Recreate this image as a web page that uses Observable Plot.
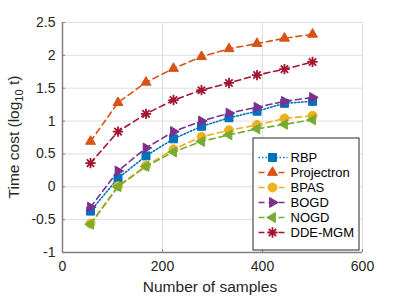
<!DOCTYPE html>
<html>
<head>
<meta charset="utf-8">
<script src="https://cdn.jsdelivr.net/npm/d3@7"></script>
<script src="https://cdn.jsdelivr.net/npm/@observablehq/plot@0.6"></script>
<style>
  body { margin: 0; background: #fff; }
  #wrap { position: relative; width: 399px; height: 299px; }
  #legend { position: absolute; left: 252px; top: 137px; }
  #legend svg { overflow: visible; }
</style>
</head>
<body>
<div id="wrap"><div id="chart"></div><div id="legend"></div></div>
<script>
const xValues = [56, 111, 167, 222, 278, 333, 389, 444, 500];
const seriesNames = ["RBP", "Projectron", "BPAS", "BOGD", "NOGD", "DDE-MGM"];
const rbp        = [-0.37, 0.13, 0.47, 0.73, 0.92, 1.05, 1.15, 1.27, 1.30];
const projectron = [0.69, 1.28, 1.59, 1.80, 1.98, 2.10, 2.18, 2.26, 2.32];
const bpas       = [-0.56, 0.01, 0.32, 0.57, 0.76, 0.86, 0.94, 1.04, 1.08];
const bogd       = [-0.31, 0.24, 0.59, 0.84, 1.00, 1.12, 1.21, 1.30, 1.36];
const nogd       = [-0.57, 0.00, 0.31, 0.53, 0.69, 0.79, 0.88, 0.95, 1.02];
const ddemgm     = [0.36, 0.84, 1.11, 1.32, 1.47, 1.58, 1.70, 1.79, 1.90];
const seriesValues = [rbp, projectron, bpas, bogd, nogd, ddemgm];
const colors = ["#0072BD", "#D95319", "#EDB120", "#7E2F8E", "#77AC30", "#A2142F"];
const xTicks = [0, 200, 400, 600];
const yTicks = [-1, -0.5, 0, 0.5, 1, 1.5, 2, 2.5];
const xLabel = "Number of samples";

// custom marker symbols
const triangle = (angle) => ({
  draw(ctx, size) {
    const R = Math.sqrt(size) * 0.72;
    for (let i = 0; i < 3; i++) {
      const a = angle + i * 2 * Math.PI / 3;
      const px = R * Math.cos(a), py = R * Math.sin(a);
      if (i === 0) ctx.moveTo(px, py); else ctx.lineTo(px, py);
    }
    ctx.closePath();
  }
});
const asterisk = {
  draw(ctx, size) {
    const r = Math.sqrt(size) * 0.65;
    for (let i = 0; i < 4; i++) {
      const a = i * Math.PI / 4;
      ctx.moveTo(-r * Math.cos(a), -r * Math.sin(a));
      ctx.lineTo(r * Math.cos(a), r * Math.sin(a));
    }
  }
};
const symbols = ["square", triangle(-Math.PI / 2), "circle", triangle(0), triangle(Math.PI), asterisk];
const dashes = ["1.5,2", "6,4", "6,4", "6,4", "6,4", "6,4"];

const rows = [];
seriesNames.forEach((name, i) => {
  xValues.forEach((x, j) => rows.push({ series: name, x, y: seriesValues[i][j] }));
});

const seriesMarks = [];
seriesNames.forEach((name, i) => {
  const d = rows.filter(r => r.series === name);
  const isStar = i === 5;
  seriesMarks.push(Plot.line(d, { x: "x", y: "y", stroke: colors[i], strokeWidth: 1.6, strokeDasharray: dashes[i] }));
  seriesMarks.push(Plot.dot(d, {
    x: "x", y: "y", symbol: () => symbols[i], r: 4.5,
    fill: isStar ? "none" : colors[i], stroke: colors[i], strokeWidth: isStar ? 1.8 : 1
  }));
});

const chart = Plot.plot({
  width: 399,
  height: 299,
  marginLeft: 62,
  marginRight: 37,
  marginTop: 22,
  marginBottom: 47,
  style: { fontFamily: "'Liberation Sans', Arial, sans-serif", fontSize: "14px", color: "#262626", background: "#fff" },
  x: { domain: [0, 600] },
  y: { domain: [-1, 2.5] },
  marks: [
    Plot.gridX(xTicks, { stroke: "#dfdfdf", strokeOpacity: 1 }),
    Plot.gridY(yTicks, { stroke: "#dfdfdf", strokeOpacity: 1 }),
    Plot.axisX({ ticks: xTicks, tickSize: -3, tickFormat: () => "", label: null, stroke: "#808080" }),
    Plot.axisY({ ticks: yTicks, tickSize: -3, tickFormat: () => "", label: null, stroke: "#808080" }),
    Plot.axisX({ ticks: xTicks, tickSize: 0, tickPadding: 9, tickFormat: d => String(d), label: null, fill: "#262626" }),
    Plot.axisY({ ticks: yTicks, tickSize: 0, tickPadding: 7, tickFormat: d => String(d), label: null, fill: "#262626" }),
    Plot.ruleX([0], { stroke: "#808080", strokeWidth: 1.5 }),
    Plot.ruleY([-1], { stroke: "#808080", strokeWidth: 1.5 }),
    ...seriesMarks
  ]
});
document.getElementById("chart").append(chart);

// axis titles
const svg = d3.select(chart);
svg.append("text")
  .attr("x", 210).attr("y", 292)
  .attr("text-anchor", "middle")
  .attr("font-size", 15.5)
  .attr("fill", "#262626")
  .text(xLabel);
const yl = svg.append("text")
  .attr("transform", "translate(19,137) rotate(-90)")
  .attr("text-anchor", "middle")
  .attr("font-size", 15.5)
  .attr("fill", "#262626");
yl.append("tspan").text("Time cost (log");
yl.append("tspan").attr("font-size", 11).attr("dy", 4).text("10");
yl.append("tspan").attr("dy", -4).text(" t)");

// legend
const legendMarks = [Plot.frame({ stroke: "#262626", fill: "#fff", inset: 0.5 })];
seriesNames.forEach((name, i) => {
  const isStar = i === 5;
  legendMarks.push(Plot.link([name], { x1: () => 6, x2: () => 35, y1: d => d, y2: d => d, stroke: colors[i], strokeWidth: 1.6, strokeDasharray: dashes[i] }));
  legendMarks.push(Plot.dot([name], { x: () => 20, y: d => d, symbol: () => symbols[i], r: 4.5, fill: isStar ? "none" : colors[i], stroke: colors[i], strokeWidth: isStar ? 1.8 : 1 }));
});
legendMarks.push(Plot.text(seriesNames, { x: () => 38, y: d => d, text: d => d, textAnchor: "start", fontSize: 13, fill: "#000" }));
const legend = Plot.plot({
  width: 107,
  height: 113,
  margin: 0,
  style: { fontFamily: "'Liberation Sans', Arial, sans-serif", background: "transparent" },
  x: { domain: [0, 107], range: [0, 107], axis: null },
  y: { type: "point", domain: seriesNames, range: [11, 103], axis: null },
  marks: legendMarks
});
document.getElementById("legend").append(legend);
</script>
</body>
</html>
